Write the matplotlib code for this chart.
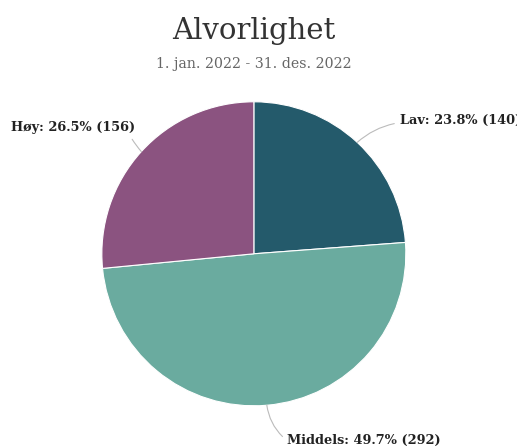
import matplotlib
matplotlib.use("Agg")
import matplotlib.pyplot as plt
import numpy as np

categories = ["Lav", "Middels", "Høy"]
counts = [140, 292, 156]
colors = ["#245a6b", "#6aab9f", "#8b5380"]

title = "Alvorlighet"
subtitle = "1. jan. 2022 - 31. des. 2022"

plt.rcParams["font.family"] = ["DejaVu Serif"]

fig = plt.figure(figsize=(5.17, 4.48), dpi=100)
ax = fig.add_axes([0.197, 0.094, 0.588, 0.679])

wedges, _ = ax.pie(counts, colors=colors, startangle=90, counterclock=False,
                   wedgeprops=dict(edgecolor="white", linewidth=0.8))
ax.set_xlim(-1, 1)
ax.set_ylim(-1, 1)

total = sum(counts)
# label positions (data units), alignment, anchor on text, curve
label_pos = {
    "Lav": ((0.96, 0.88), "left", (0.0, 0.3), 0.15),
    "Middels": ((0.22, -1.23), "left", (0.0, 0.5), -0.2),
    "Høy": ((-0.78, 0.83), "right", (0.95, 0.0), 0.05),
}
for w, name, n in zip(wedges, categories, counts):
    ang = np.deg2rad((w.theta1 + w.theta2) / 2)
    xy = (np.cos(ang), np.sin(ang))
    pos, ha, rel, rad = label_pos[name]
    ax.annotate(f"{name}: {n / total * 100:.1f}% ({n})", xy=xy, xytext=pos,
                ha=ha, va="center", fontsize=9.3, fontweight="bold", color="#222222",
                annotation_clip=False,
                arrowprops=dict(arrowstyle="-", color="#bbbbbb", lw=0.8,
                                relpos=rel, shrinkA=2, shrinkB=0,
                                connectionstyle=f"arc3,rad={rad}"))

fig.text(0.491, 0.931, title, ha="center", va="center", fontsize=21, color="#333333")
fig.text(0.491, 0.857, subtitle, ha="center", va="center", fontsize=10.2, color="#666666")

fig.savefig("out.png", dpi=100)
